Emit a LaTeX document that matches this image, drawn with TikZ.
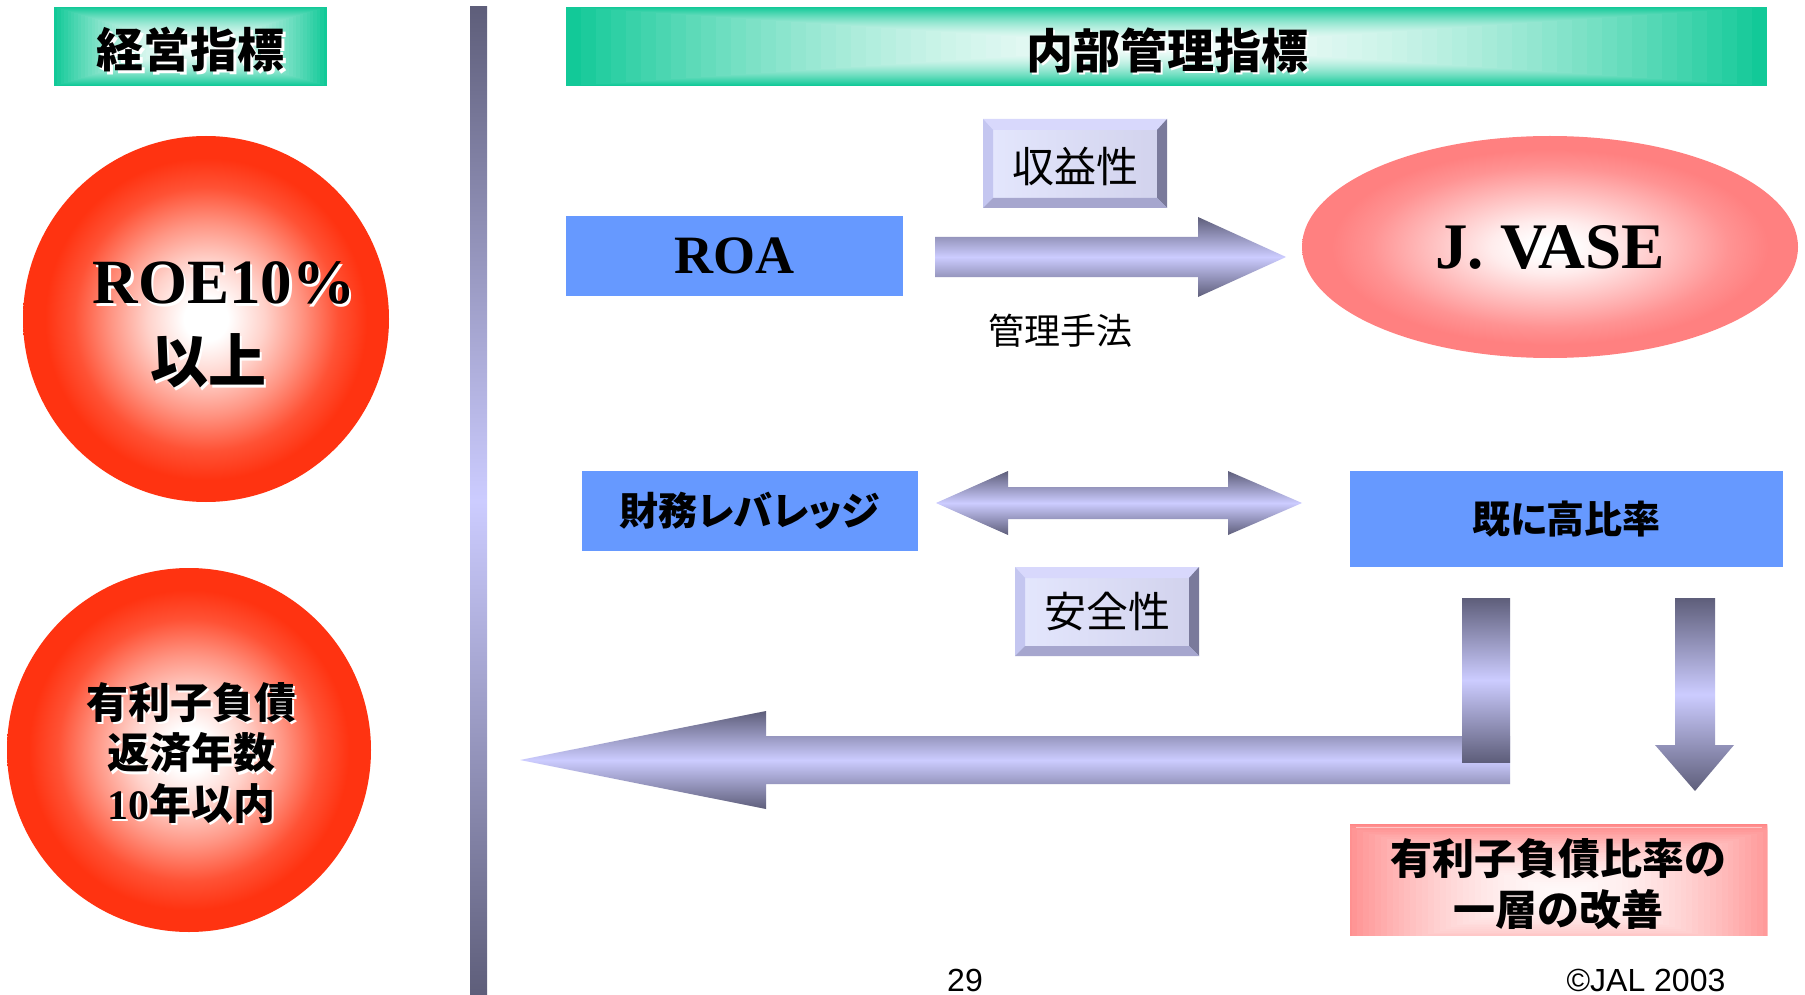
\documentclass[tikz,border=0pt]{standalone}
\usepackage{fontspec}
\setmainfont{Liberation Serif}
\newfontfamily\jp{Noto Sans CJK JP}
\newfontfamily\jpp{Noto Sans CJK JP}[RawFeature=+palt]
\newfontfamily\lsans{Liberation Sans}
\usetikzlibrary{shapes.geometric}

\definecolor{grn}{RGB}{18,201,152}
\definecolor{blu}{RGB}{102,153,255}
\definecolor{adk}{RGB}{94,94,122}
\definecolor{alt}{RGB}{204,204,255}
\definecolor{redc}{RGB}{255,51,17}
\definecolor{pnk}{RGB}{255,128,128}
\definecolor{bvface}{RGB}{202,214,245}
\definecolor{bvtop}{RGB}{216,216,252}
\definecolor{bvleft}{RGB}{196,198,240}
\definecolor{bvright}{RGB}{122,122,155}
\definecolor{bvbot}{RGB}{166,166,206}

\pgfdeclareradialshading{redball}{\pgfpoint{0bp}{0bp}}{color(0bp)=(white); color(3bp)=(white); color(8bp)=(redc!22!white); color(13bp)=(redc!52!white); color(18bp)=(redc!85!white); color(22bp)=(redc); color(50bp)=(redc)}
\pgfdeclareradialshading{pinkball}{\pgfpoint{0bp}{0bp}}{color(0bp)=(white); color(2bp)=(white); color(6bp)=(pnk!15!white); color(12bp)=(pnk!50!white); color(18bp)=(pnk!85!white); color(22bp)=(pnk); color(50bp)=(pnk)}

% concentric rectangle gradient: centre x, centre y, half width, half height, colour
\newcommand{\rgrad}[5]{%
 \foreach \i in {0,...,40}{%
  \pgfmathsetmacro\ff{1-\i/40}%
  \pgfmathsetmacro\pp{5+95*(\ff^1.8)}%
  \fill[#5!\pp!white] (#1-#3*\ff,#2-#4*\ff) rectangle (#1+#3*\ff,#2+#4*\ff);}}

\newcommand{\bevbox}[4]{%
 \fill[bvface] (#1,#2) rectangle (#3,#4);
 \shade[left color=bvface!80!blue!30!white, right color=bvface!85!pink] (#1+10,#2+11) rectangle (#3-10,#4-10);
 \fill[bvtop] (#1,#2) -- (#3,#2) -- (#3-10,#2+11) -- (#1+10,#2+11) -- cycle;
 \fill[bvleft] (#1,#2) -- (#1+10,#2+11) -- (#1+10,#4-10) -- (#1,#4) -- cycle;
 \fill[bvright] (#3,#2) -- (#3,#4) -- (#3-10,#4-10) -- (#3-10,#2+11) -- cycle;
 \fill[bvbot] (#1,#4) -- (#1+10,#4-10) -- (#3-10,#4-10) -- (#3,#4) -- cycle;}

\newcommand{\shtxt}[5]{%
 \node[#4,text=white] (#1s) at (#2+2.5,#3+2.5) {#5};
 \node[#4] (#1) at (#2,#3) {#5};}

\begin{document}
\begin{tikzpicture}[x=1pt,y=-1pt,
  hdr/.style={font={\jp\bfseries\fontsize{47}{50}\selectfont}, inner sep=0},
  bluebox/.style={rectangle, fill=blu, inner sep=0},
  arrowshade/.style={top color=adk, bottom color=adk, middle color=alt},
  jpbold/.style={font={\jpp\bfseries\fontsize{#1}{#1}\selectfont}},
  serifb/.style={font={\rmfamily\bfseries\fontsize{#1}{#1}\selectfont}},
  lbl/.style={font={\jp\fontsize{#1}{#1}\selectfont}, inner sep=0}]
\useasboundingbox (0,0) rectangle (1805,995);
\fill[white] (0,0) rectangle (1805,995);

% headers
\rgrad{190.5}{46.5}{136.5}{39.5}{grn}
\shtxt{h1}{190.5}{50}{hdr}{経営指標}
\rgrad{1166.5}{46.5}{600.5}{39.5}{grn}
\shtxt{h2}{1167}{50}{hdr}{内部管理指標}

% divider bar
\shade[arrowshade] (470,7) rectangle (487,995);

% left circles
\node[circle, minimum size=366pt, inner sep=0, shading=redball] (c1) at (206,319) {};
\shtxt{roe}{224}{283}{serifb=63, inner sep=0}{ROE10\%}
\shtxt{ijo}{208}{361}{jpbold=58, inner sep=0}{以上}
\node[circle, minimum size=364pt, inner sep=0, shading=redball] (c2) at (189,750) {};
\shtxt{debtyrs}{191}{753}{font={\jp\bfseries\fontsize{42}{50.5}\selectfont}, align=center, inner sep=0}{有利子負債\\返済年数\\{\rmfamily\bfseries 10}年以内}

% ROA row
\node[bluebox, minimum width=337pt, minimum height=80pt, serifb=54] (roa) at (734.5,256) {ROA};
\bevbox{983}{119}{1167}{208}
\node[lbl=42] (shueki) at (1075,166) {収益性};
\shade[arrowshade] (935,237) -- (1198,237) -- (1198,217) -- (1286,257) -- (1198,297) -- (1198,277) -- (935,277) -- cycle;
\node[lbl=36] (kanri) at (1060,331) {管理手法};
\node[ellipse, minimum width=496pt, minimum height=222pt, inner sep=0, shading=pinkball, serifb=65] (vase) at (1550,247) {J. VASE};

% leverage row
\node[bluebox, minimum width=336pt, minimum height=80pt, jpbold=39] (lev) at (750,511) {財務レバレッジ};
\shade[arrowshade] (936,503) -- (1008,471) -- (1008,487) -- (1228,487) -- (1228,471) -- (1302,503) -- (1228,535) -- (1228,519) -- (1008,519) -- (1008,535) -- cycle;
\node[bluebox, minimum width=433pt, minimum height=96pt, jpbold=38] (high) at (1566.5,519) {既に高比率};
\bevbox{1015}{567}{1199}{656}
\node[lbl=42] (anzen) at (1107,612) {安全性};

% bottom arrows
\shade[arrowshade] (520,760) -- (766,711) -- (766,736) -- (1510,736) -- (1510,784) -- (766,784) -- (766,809) -- cycle;
\shade[arrowshade] (1462,598) rectangle (1510,762);
\shade[arrowshade] (1675,598) -- (1715,598) -- (1715,745) -- (1734,745) -- (1695,791) -- (1655,745) -- (1675,745) -- cycle;

% bottom right box
\node[rectangle, minimum width=417pt, minimum height=111pt, inner sep=0, fill=pnk] (improvebg) at (1558.5,879.5) {};
\begin{scope}
\clip (1350,824) rectangle (1767,935);
\rgrad{1563}{893}{235}{72}{pnk}
\end{scope}
\draw[pnk!45!white, line width=1pt] (1356,827) -- (1762,827);
\node[inner sep=0, align=center, font={\jpp\bfseries\fontsize{42}{51}\selectfont}] (improve) at (1558.5,884) {有利子負債比率の\\一層の改善};

% footer
\node[font={\lsans\fontsize{32}{32}\selectfont}, inner sep=0] (page) at (965,980) {29};
\node[font={\lsans\fontsize{32}{32}\selectfont}, inner sep=0] (copy) at (1646,980) {©JAL 2003};
\end{tikzpicture}
\end{document}
